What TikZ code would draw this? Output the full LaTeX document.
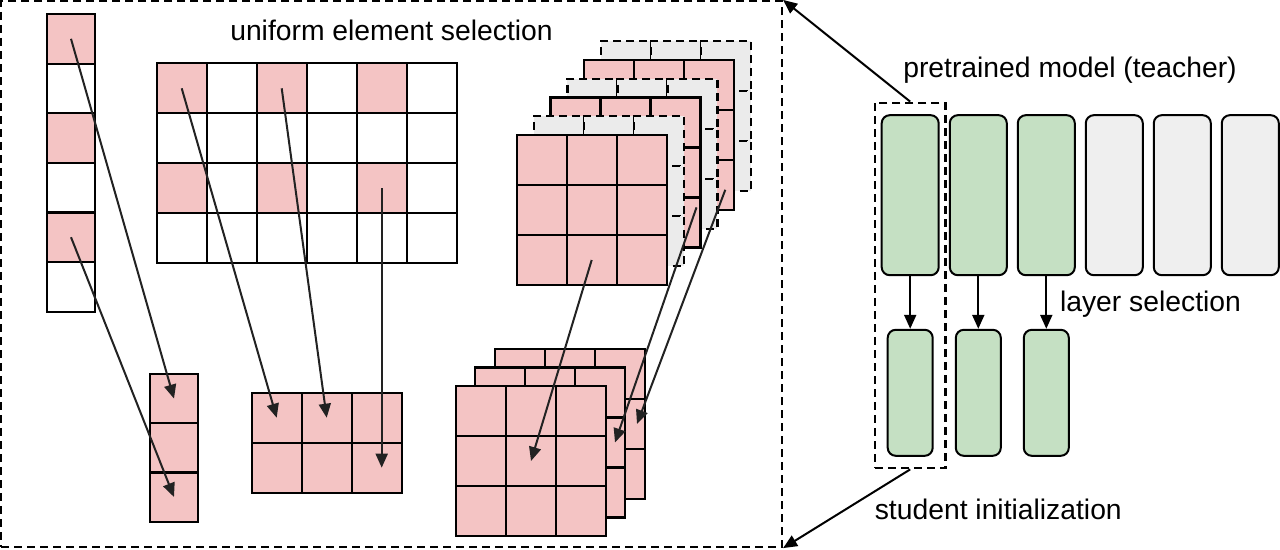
\documentclass[tikz,border=0pt]{standalone}
\usepackage{fontspec}
\setmainfont{Liberation Sans}
\usetikzlibrary{positioning,arrows.meta,fit,calc}
\definecolor{cellpink}{HTML}{F4C4C4}
\definecolor{kernelgray}{HTML}{EBEBEB}
\definecolor{layergreen}{HTML}{C5E0C3}
\definecolor{layergray}{HTML}{EFEFEF}
\definecolor{arrowdark}{HTML}{222222}

\begin{document}
\begin{tikzpicture}[
    x=1pt, y=-1pt,
    >={Triangle[length=14pt,width=12pt]},
    every node/.style={font=\fontsize{28.3}{34}\selectfont},
    cell/.style={
        draw=black,
        line width=2.2pt,
        minimum width=50pt,
        minimum height=50pt,
        inner sep=0pt,
        outer sep=0pt,
        fill=#1,
    },
    cell/.default=white,
    layerbox/.style={
        rounded corners=8pt,
        draw=black,
        line width=2pt,
        fill=#1,
        inner sep=0pt,
    },
    framebox/.style={draw=black,line width=2.2pt,dash pattern=on 8pt off 5pt,inner sep=0pt},
    pick/.style={->,line width=2pt,color=arrowdark},
    link/.style={->,line width=2pt,color=black},
    note/.style={anchor=base,inner sep=0pt},
]
\useasboundingbox (0,0) rectangle (1280,549);

% === Frame ===
\node[framebox,minimum width=781pt,minimum height=546pt] (frame) at (391.5,274) {};
\node[note] (uniformtxt) at (391.5,40.7) {uniform element selection};

% === Teacher vector ===
\foreach \i in {0,...,5} {
    \ifodd\i \def\cf{white}\else \def\cf{cellpink}\fi
    \node[cell=\cf,minimum width=48pt,minimum height=49.6pt] (v\i) at (71,{38.8+49.6*\i}) {};
}

% === Teacher matrix ===
\foreach \r in {0,...,3}
    \foreach \c in {0,...,5} {
        \ifodd\r \def\cf{white}\else \ifodd\c \def\cf{white}\else \def\cf{cellpink}\fi\fi
        \node[cell=\cf] (m\r\c) at ({181.7+50*\c},{88.3+50*\r}) {};
    }

% === Teacher kernels (back to front) ===
\foreach \k in {5,4,...,0} {
    \ifodd\k
        \tikzset{kernel/.style={cell=kernelgray,dash pattern=on 8pt off 5pt}}
    \else
        \tikzset{kernel/.style={cell=cellpink}}
    \fi
    \foreach \r in {0,1,2}
        \foreach \c in {0,1,2}
            \node[kernel] (tk\k\r\c) at ({541.7+16.9*\k+50*\c},{160-18.8*\k+50*\r}) {};
}

% === Student vector ===
\foreach \i in {0,1,2}
    \node[cell=cellpink,minimum width=48pt,minimum height=49.2pt] (bv\i) at (174,{398.6+49.2*\i}) {};

% === Student matrix ===
\foreach \r in {0,1}
    \foreach \c in {0,1,2}
        \node[cell=cellpink] (bm\r\c) at ({276.7+50*\c},{417.7+50*\r}) {};

% === Student kernels (back to front) ===
\foreach \j/\x/\y in {2/495/349,1/475/367.5,0/456/386}
    \foreach \r in {0,1,2}
        \foreach \c in {0,1,2}
            \node[cell=cellpink] (bk\j\r\c) at ({\x+25+50*\c},{\y+25+50*\r}) {};

% === Element picks ===
\draw[pick] (v0.center) -- (bv0.center);
\draw[pick] (v4.center) -- (bv2.center);
\draw[pick] (m00.center) -- (bm00.center);
\draw[pick] (m02.center) -- (bm01.center);
\draw[pick] (m24.center) -- (m24.center |- bm12.center);
\draw[pick] (tk021.center) -- (bk011.center);
\draw[pick] ([shift={(-4,10)}]tk222.north east) -- ([xshift=15pt]bk112.center);
\draw[pick] ([shift={(16,5)}]tk422.center) -- ([xshift=17pt]bk212.center);

% === Layers ===
\node[note] (teachertxt) at (1070,77.3) {pretrained model (teacher)};

\node[layerbox=layergreen,minimum width=57pt,minimum height=160pt] (t1) at (910.2,195.2) {};
\node[layerbox=layergreen,minimum width=57pt,minimum height=160pt] (t2) at (978.3,195.2) {};
\node[layerbox=layergreen,minimum width=57pt,minimum height=160pt] (t3) at (1046.3,195.2) {};
\node[layerbox=layergray,minimum width=57pt,minimum height=160pt] (t4) at (1114.3,195.2) {};
\node[layerbox=layergray,minimum width=57pt,minimum height=160pt] (t5) at (1182.3,195.2) {};
\node[layerbox=layergray,minimum width=57pt,minimum height=160pt] (t6) at (1250.3,195.2) {};

\node[layerbox=layergreen,minimum width=45pt,minimum height=126pt] (s1) at (910.2,392.8) {};
\node[layerbox=layergreen,minimum width=45pt,minimum height=126pt] (s2) at (978.3,392.8) {};
\node[layerbox=layergreen,minimum width=45pt,minimum height=126pt] (s3) at (1046.3,392.8) {};

\draw[link] (t1) -- (s1);
\draw[link] (t2) -- (s2);
\draw[link] (t3) -- (s3);

\node[note] (layertxt) at (1150.5,311.5) {layer selection};

% === Selected layer box ===
\node[framebox,fit=(t1)(s1),inner xsep=5.7pt,inner ysep=11.5pt] (sel) {};

\draw[link] (sel.north) -- (frame.north east);
\draw[link] (sel.south) -- (frame.south east);

\node[note] (studenttxt) at (998.3,519) {student initialization};

\end{tikzpicture}
\end{document}
